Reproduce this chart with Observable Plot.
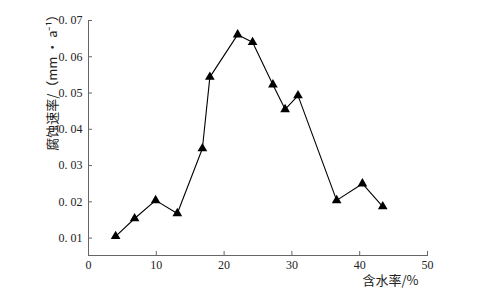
<!DOCTYPE html>
<html><head><meta charset="utf-8">
<script src="https://cdn.jsdelivr.net/npm/d3@7"></script>
<script src="https://cdn.jsdelivr.net/npm/@observablehq/plot@0.6"></script>
<style>body{margin:0;background:#fff}</style>
</head><body><div id="chart"></div>
<script>
const waterContent = [4.0, 6.8, 9.9, 13.1, 16.8, 17.9, 22.0, 24.2, 27.2, 29.0, 30.9, 36.6, 40.4, 43.4];
const corrosionRate = [0.0105, 0.0154, 0.0204, 0.0168, 0.0347, 0.0544, 0.0661, 0.0640, 0.0523, 0.0455, 0.0493, 0.0204, 0.0250, 0.0187];
const xTicks = [0, 10, 20, 30, 40, 50];
const yTicks = [0.01, 0.02, 0.03, 0.04, 0.05, 0.06, 0.07];
const xLabel = "含水率/%";
const yLabel = "腐蚀速率/（mm • a⁻¹）";

const data = waterContent.map((x, i) => ({x, y: corrosionRate[i]}));
const serif = "Liberation Serif";
const cjk = "Noto Sans CJK SC";

const chart = Plot.plot({
  width: 484, height: 294,
  marginLeft: 88, marginRight: 57, marginTop: 20, marginBottom: 39,
  style: {fontSize: "12px", color: "#222", background: "#fff", fontFamily: serif},
  x: {domain: [0, 50]},
  y: {domain: [0.0052, 0.07]},
  marks: [
    Plot.axisX({ticks: xTicks, tickSize: -4, tickPadding: 9, label: null, stroke: "#666", fontFamily: serif, fontSize: 12}),
    Plot.axisY({ticks: yTicks, tickSize: -4, tickPadding: 10, label: null, stroke: "#666", fontFamily: serif, fontSize: 12,
      tickFormat: d => d.toFixed(2).replace(".", ". ")}),
    Plot.frame({anchor: "left", stroke: "#666"}),
    Plot.frame({anchor: "bottom", stroke: "#666"}),
    Plot.line(data, {x: "x", y: "y", stroke: "#000", strokeWidth: 1.1}),
    Plot.dot(data, {x: "x", y: "y", symbol: "triangle", r: 3.6, fill: "#000", stroke: "none"}),
    Plot.text([yLabel], {frameAnchor: "top-left", rotate: -90, dx: -41, dy: 59, textAnchor: "middle",
      fontSize: 13, fill: "#222", fontFamily: cjk}),
    Plot.text([xLabel], {frameAnchor: "bottom-right", dx: -9, dy: 29, textAnchor: "end",
      fontSize: 13, fill: "#222", fontFamily: cjk})
  ]
});
document.getElementById("chart").appendChild(chart);
</script></body></html>
